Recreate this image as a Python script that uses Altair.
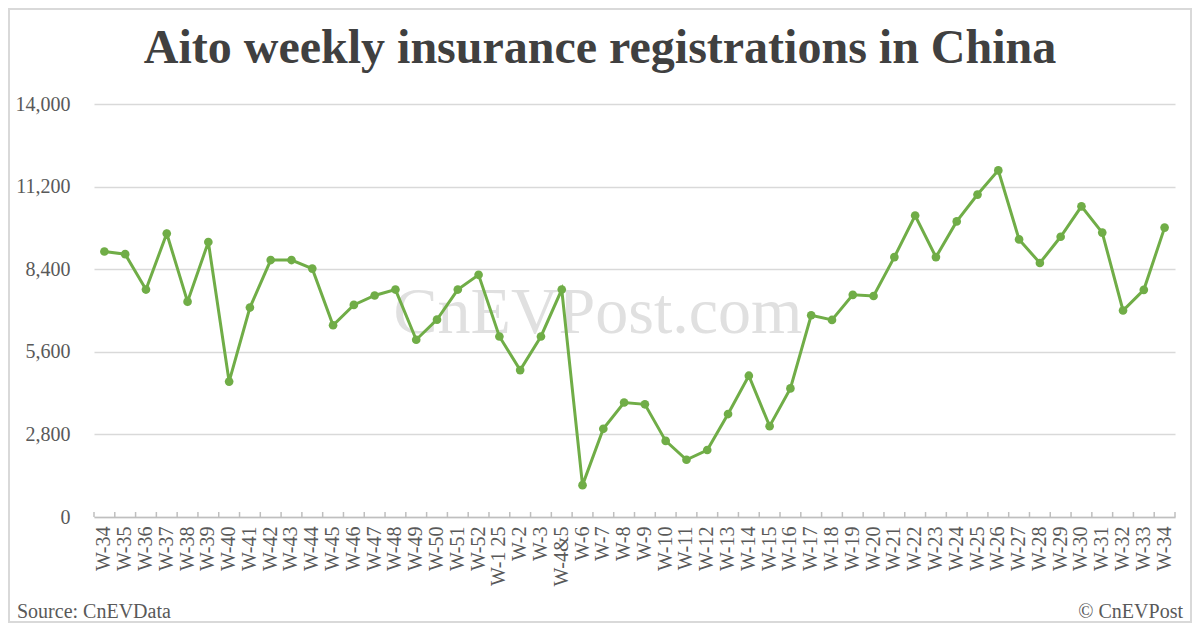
import json
import altair as alt
import pandas as pd

weeks = ["W-34", "W-35", "W-36", "W-37", "W-38", "W-39", "W-40", "W-41", "W-42", "W-43",
         "W-44", "W-45", "W-46", "W-47", "W-48", "W-49", "W-50", "W-51", "W-52", "W-1 25",
         "W-2", "W-3", "W-4&5", "W-6", "W-7", "W-8", "W-9", "W-10", "W-11", "W-12",
         "W-13", "W-14", "W-15", "W-16", "W-17", "W-18", "W-19", "W-20", "W-21", "W-22",
         "W-23", "W-24", "W-25", "W-26", "W-27", "W-28", "W-29", "W-30", "W-31", "W-32",
         "W-33", "W-34"]
registrations = [9000, 8910, 7710, 9610, 7300, 9320, 4590, 7100, 8710, 8710,
                 8420, 6500, 7190, 7510, 7710, 6010, 6690, 7710, 8210, 6120,
                 4980, 6120, 7710, 1080, 2990, 3880, 3820, 2580, 1940, 2270,
                 3490, 4790, 3080, 4360, 6840, 6680, 7530, 7490, 8810, 10220,
                 8810, 10020, 10930, 11750, 9410, 8610, 9500, 10530, 9640, 7000,
                 7700, 9810]
y_ticks = [0, 2800, 5600, 8400, 11200, 14000]

title_text = "Aito weekly insurance registrations in China"
source_text = "Source: CnEVData"
credit_text = "© CnEVPost"
watermark_text = "CnEVPost.com"

W, H = 1081, 413
FONT = "Liberation Serif"
GREEN = "#70ad47"

df = pd.DataFrame({"idx": list(range(len(weeks))), "value": registrations})
label_expr = json.dumps(weeks) + "[datum.value]"

x_enc = alt.X("idx:O", sort=None,
              scale=alt.Scale(paddingInner=0, paddingOuter=0),
              axis=alt.Axis(labelExpr=label_expr, labelAngle=-90, labelFont=FONT,
                            labelFontSize=20, labelColor="#595959", labelPadding=9,
                            labelOverlap=False, ticks=False, tickSize=0,
                            domainColor="#bfbfbf", domainWidth=1.5, grid=False,
                            title=None))
y_enc = alt.Y("value:Q",
              scale=alt.Scale(domain=[0, 14000], nice=False),
              axis=alt.Axis(values=y_ticks, format=",d", labelFont=FONT,
                            labelFontSize=20, labelColor="#595959", labelPadding=24,
                            ticks=False, tickSize=0, domain=False, grid=True,
                            gridColor="#d9d9d9", gridWidth=1.5, title=None))

base = alt.Chart(df)


def one(text):
    return alt.Chart(pd.DataFrame({"t": [text]}))


border = one("").mark_rect(fill=None, stroke="#d9d9d9", strokeWidth=2).encode(
    x=alt.value(-85), x2=alt.value(1097), y=alt.value(-95), y2=alt.value(518))

watermark = one(watermark_text).mark_text(font=FONT, fontSize=66, color="#d9d9d9",
                                          opacity=0.8, align="center",
                                          baseline="alphabetic").encode(
    text="t:N", x=alt.value(504), y=alt.value(229))

line = base.mark_line(color=GREEN, strokeWidth=3).encode(x=x_enc, y=y_enc)
points = base.mark_circle(color=GREEN, size=75, opacity=1).encode(x=x_enc, y=y_enc)

ticks = base.mark_rule(color="#bfbfbf", strokeWidth=1.5).encode(
    x=alt.X("idx:O", sort=None, bandPosition=0),
    y=alt.value(H), y2=alt.value(H - 5))
end_tick = one("").mark_rule(color="#bfbfbf", strokeWidth=1.5).encode(
    x=alt.value(W), y=alt.value(H), y2=alt.value(H - 5))

title = one(title_text).mark_text(font=FONT, fontSize=48, fontWeight="bold",
                                  color="#404040", align="center",
                                  baseline="alphabetic").encode(
    text="t:N", x=alt.value(506), y=alt.value(-41))
source = one(source_text).mark_text(font=FONT, fontSize=20, color="#595959",
                                    align="left", baseline="alphabetic").encode(
    text="t:N", x=alt.value(-77), y=alt.value(514))
credit = one(credit_text).mark_text(font=FONT, fontSize=20, color="#595959",
                                    align="right", baseline="alphabetic").encode(
    text="t:N", x=alt.value(1089), y=alt.value(514))

chart = alt.layer(border, watermark, line, points, ticks, end_tick, title, source, credit).properties(
    width=W, height=H,
    autosize=alt.AutoSizeParams(type="none"),
    padding={"left": 86, "top": 96, "right": 17, "bottom": 106},
    background="white",
).configure_view(stroke=None)

chart.save("out.html", embed_options={"renderer": "svg", "actions": False})
